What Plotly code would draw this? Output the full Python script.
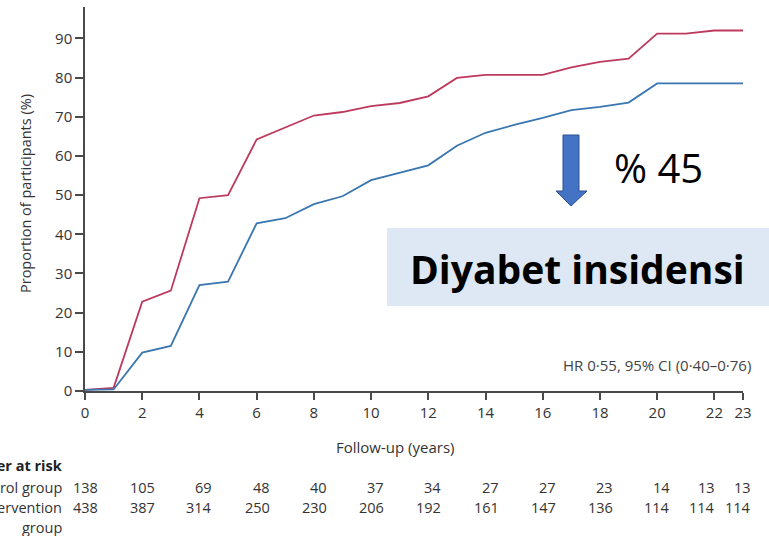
import plotly.graph_objects as go

# ---- data ----
years = list(range(0, 24))
control = [0.3, 0.8, 22.8, 25.6, 49.2, 50.0, 64.2, 67.3, 70.3, 71.2, 72.7, 73.5,
           75.2, 79.9, 80.7, 80.7, 80.7, 82.6, 84.0, 84.8, 91.2, 91.2, 92.0, 92.0]
intervention = [0.3, 0.4, 9.8, 11.5, 27.0, 27.9, 42.8, 44.1, 47.7, 49.7, 53.8, 55.7,
                57.6, 62.6, 65.9, 67.9, 69.7, 71.7, 72.5, 73.6, 78.5, 78.5, 78.5, 78.5]
risk_times = [0, 2, 4, 6, 8, 10, 12, 14, 16, 18, 20, 22, 23]
risk_control = [138, 105, 69, 48, 40, 37, 34, 27, 27, 23, 14, 13, 13]
risk_intervention = [438, 387, 314, 250, 230, 206, 192, 161, 147, 136, 114, 114, 114]
x_ticks = [0, 2, 4, 6, 8, 10, 12, 14, 16, 18, 20, 22, 23]
y_ticks = [0, 10, 20, 30, 40, 50, 60, 70, 80, 90]

W, H = 769, 536
L, R, T, B = 85, 26, 7, 145
PW, PH = W - L - R, H - T - B
XMAX, YMAX = 23, 98

def pxx(px):  # pixel -> paper x
    return (px - L) / PW

def pxy(py):  # pixel -> paper y
    return (H - B - py) / PH

RED = "#bd3a5e"
BLUE = "#3a76b0"
AX = "#4a4a4a"
TXT = "#333333"
FONT = "Open Sans"

fig = go.Figure()
fig.add_trace(go.Scatter(x=years, y=control, mode="lines",
                         line=dict(color=RED, width=1.8), showlegend=False))
fig.add_trace(go.Scatter(x=years, y=intervention, mode="lines",
                         line=dict(color=BLUE, width=1.8), showlegend=False))

fig.update_layout(
    width=W, height=H,
    margin=dict(l=L, r=R, t=T, b=B, pad=0),
    paper_bgcolor="white", plot_bgcolor="white",
    font=dict(family=FONT, color=TXT, size=14),
    xaxis=dict(range=[0, XMAX], tickvals=x_ticks, ticks="outside", ticklen=7,
               tickcolor=AX, tickwidth=1.5, showline=True, linecolor=AX, linewidth=1.5,
               showgrid=False, zeroline=False, tickfont=dict(size=15, color=TXT)),
    yaxis=dict(range=[0, YMAX], tickvals=y_ticks, ticks="outside", ticklen=8,
               tickcolor=AX, tickwidth=1.5, showline=True, linecolor=AX, linewidth=1.5,
               showgrid=False, zeroline=False, tickfont=dict(size=15, color=TXT)),
)

ann = []
# axis titles
ann.append(dict(text="Follow-up (years)", xref="paper", yref="paper",
                x=pxx(395), y=pxy(447), xanchor="center", yanchor="middle",
                showarrow=False, font=dict(size=15, color=TXT)))
ann.append(dict(text="Proportion of participants (%)", xref="paper", yref="paper",
                x=pxx(25), y=pxy(194), xanchor="center", yanchor="middle", textangle=-90,
                showarrow=False, font=dict(size=14.5, color=TXT)))
# HR text
ann.append(dict(text="HR 0·55, 95% CI (0·40–0·76)", xref="paper", yref="paper",
                x=pxx(753), y=pxy(365), xanchor="right", yanchor="middle",
                showarrow=False, font=dict(size=15, color="#444444")))
# risk table labels
for txt, py, bold in [("Number at risk", 465, True), ("Control group", 487, False),
                      ("Intervention", 507, False), ("group", 527, False)]:
    ann.append(dict(text=f"<b>{txt}</b>" if bold else txt, xref="paper", yref="paper",
                    x=pxx(64), y=pxy(py), xanchor="right", yanchor="middle",
                    showarrow=False, font=dict(size=14.5, color="#222222" if bold else TXT)))
# risk numbers
shifts = {22: 3, 23: 10}
for t, c, i in zip(risk_times, risk_control, risk_intervention):
    sh = shifts.get(t, 15)
    ann.append(dict(text=str(c), xref="x", yref="paper", x=t, y=pxy(487),
                    xanchor="right", yanchor="middle", xshift=sh, showarrow=False,
                    font=dict(size=14.5, color=TXT)))
    ann.append(dict(text=str(i), xref="x", yref="paper", x=t, y=pxy(507),
                    xanchor="right", yanchor="middle", xshift=sh, showarrow=False,
                    font=dict(size=14.5, color=TXT)))
# callouts
ann.append(dict(text="% 45", xref="paper", yref="paper", x=pxx(612), y=pxy(167),
                xanchor="left", yanchor="middle", showarrow=False,
                font=dict(size=40, color="black", family=FONT)))
ann.append(dict(text="<b>Diyabet insidensi</b>", xref="paper", yref="paper",
                x=pxx(577), y=pxy(268), xanchor="center", yanchor="middle",
                showarrow=False, font=dict(size=39, color="black", family=FONT)))
fig.update_layout(annotations=ann)

# box behind text
fig.add_shape(type="rect", xref="paper", yref="paper",
              x0=pxx(387), x1=pxx(775), y0=pxy(306), y1=pxy(228),
              fillcolor="#dde8f4", line=dict(width=0), layer="above")

# arrow
pts = [(563, 135), (579, 135), (579, 191), (587, 191), (571, 206), (556, 191), (563, 191)]
path = "M " + " L ".join(f"{pxx(a):.5f},{pxy(b):.5f}" for a, b in pts) + " Z"
fig.add_shape(type="path", xref="paper", yref="paper", path=path,
              fillcolor="#4472c4", line=dict(color="#2f528f", width=1), layer="above")

fig.write_html("out.html")
